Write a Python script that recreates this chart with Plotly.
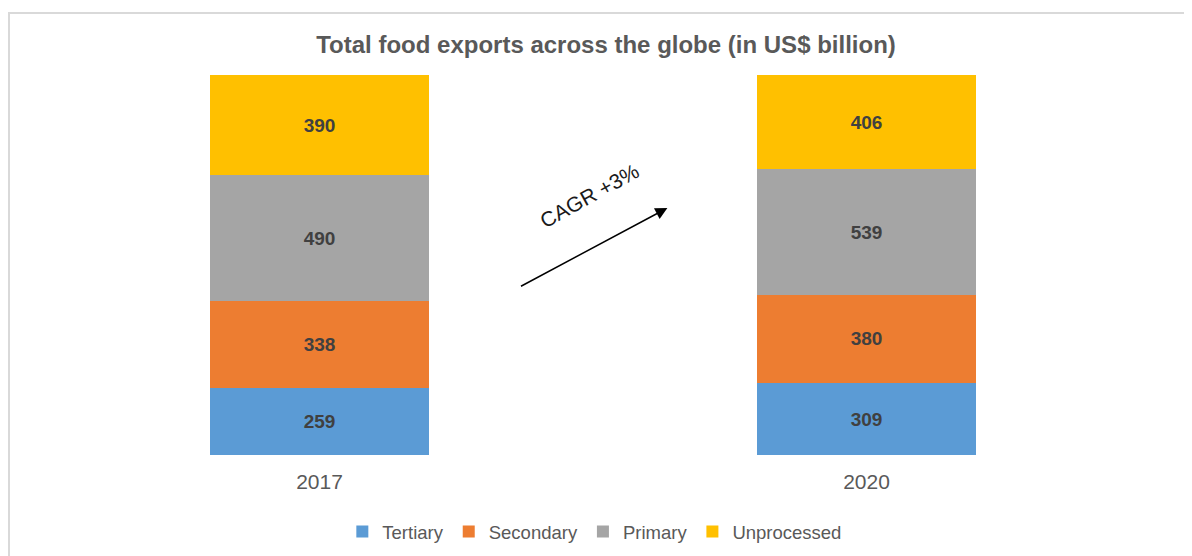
import plotly.graph_objects as go

years = ["2017", "2020"]
series_names = ["Tertiary", "Secondary", "Primary", "Unprocessed"]
tertiary = [259, 309]
secondary = [338, 380]
primary = [490, 539]
unprocessed = [390, 406]
colors = ["#5B9BD5", "#ED7D31", "#A5A5A5", "#FFC000"]

FONT = "Liberation Sans, Arial"

fig = go.Figure()
for name, vals, col in zip(series_names, [tertiary, secondary, primary, unprocessed], colors):
    fig.add_trace(go.Bar(
        x=years, y=vals, name=name, marker=dict(color=col, line=dict(width=0)),
        text=vals, texttemplate="%{text}", textposition="inside",
        insidetextanchor="middle",
        textfont=dict(family=FONT, size=19, color="#404040", weight="bold"),
        hoverinfo="skip",
    ))

fig.update_layout(
    width=1192, height=556,
    barmode="stack", barnorm="percent", bargap=0.598,
    paper_bgcolor="white", plot_bgcolor="white",
    margin=dict(l=38, r=60, t=67, b=109),
    font=dict(family=FONT, color="#595959"),
    title=dict(text="<b>Total food exports across the globe (in US$ billion)</b>",
               x=(606 - 8) / 1192, xanchor="center", y=1 - 37 / 556, yanchor="middle", yref="container",
               font=dict(size=24, color="#595959")),
    xaxis=dict(showgrid=False, showline=False, zeroline=False, ticks="",
               tickfont=dict(size=21, color="#595959"), range=[-0.5, 1.5],
               ticklabelstandoff=12),
    yaxis=dict(visible=False, range=[0, 100]),
    legend=dict(orientation="h", x=(606 - 8) / 1192, xanchor="center", y=1 - 524 / 556, yanchor="middle",
                yref="container", font=dict(size=18.5, color="#595959"), traceorder="normal",
                itemwidth=30),
    showlegend=True,
)

fig.add_annotation(x=0.636, y=65.0, ax=0.3656, ay=44.2, xref="x", yref="y", axref="x", ayref="y",
                   showarrow=True, arrowhead=2, arrowsize=1.6, arrowwidth=1.5, arrowcolor="#000000", text="")
fig.add_annotation(x=0.494, y=68.2, xref="x", yref="y", text="CAGR +3%", showarrow=False,
                   textangle=-29, font=dict(family=FONT, size=21, color="#1A1A1A"))

fig.add_shape(type="rect", xref="paper", yref="paper", x0=(1 - 38) / 1094, x1=(1300 - 38) / 1094,
              y0=-300 / 380, y1=1 + 62 / 380, line=dict(color="#D9D9D9", width=2), layer="below")

fig.write_html("out.html")
